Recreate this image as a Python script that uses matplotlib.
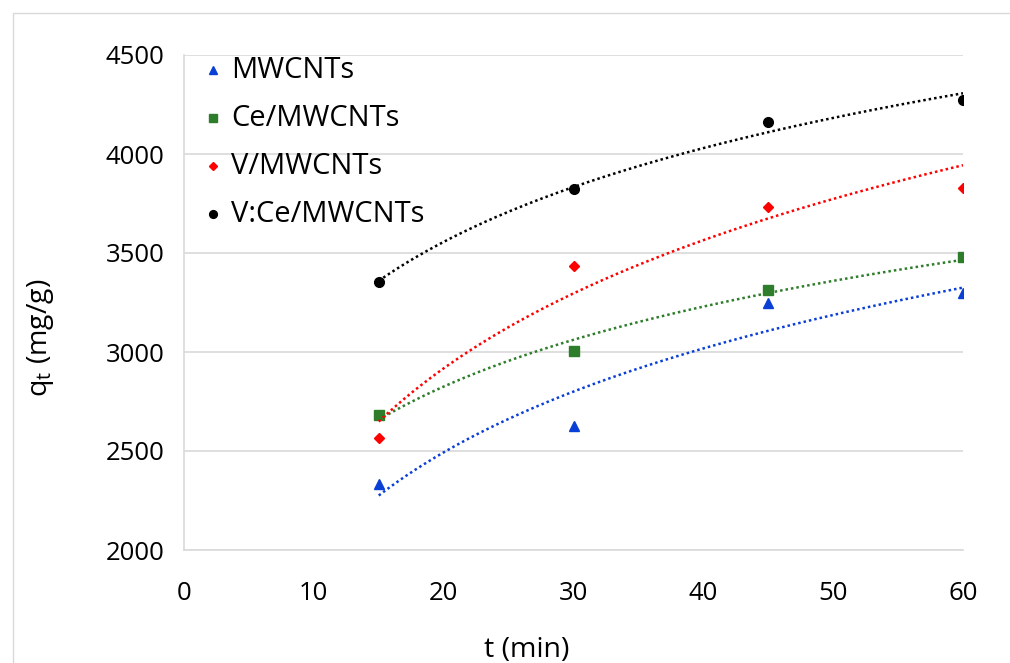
import numpy as np
import matplotlib
matplotlib.use("Agg")
import matplotlib.pyplot as plt
from matplotlib.patches import Rectangle

t = [15, 30, 45, 60]
series_names = ["MWCNTs", "Ce/MWCNTs", "V/MWCNTs", "V:Ce/MWCNTs"]
q_mwcnt = [2333, 2626, 3249, 3300]
q_ce = [2682, 3007, 3313, 3481]
q_v = [2567, 3436, 3732, 3828]
q_vce = [3355, 3821, 4162, 4272]
x_ticks = [0, 10, 20, 30, 40, 50, 60]
y_ticks = [2000, 2500, 3000, 3500, 4000, 4500]

plt.rcParams['font.family'] = ['Open Sans', 'DejaVu Sans']

fig = plt.figure(figsize=(10.10, 6.63), dpi=100)
fig.patches.append(Rectangle((13/1010, -0.1), 1.2, (1 - 13/663) + 0.1,
                             transform=fig.transFigure, fill=False,
                             edgecolor='#d9d9d9', linewidth=1.0))
ax = fig.add_axes([184/1010, 1 - 550/663, (963 - 184)/1010, (550 - 55)/663])

styles = [
    (q_mwcnt, '#0a3fd6', '^', 7.5),
    (q_ce, '#2e7d2a', 's', 7),
    (q_v, '#ff0000', 'D', 5.5),
    (q_vce, '#000000', 'o', 7),
]
tx = np.linspace(15, 60, 200)
for i, (name, (vals, col, mk, ms)) in enumerate(zip(series_names, styles)):
    ax.plot(t, vals, linestyle='none', marker=mk, color=col, markersize=ms)
    b, a = np.polyfit(np.log(t), vals, 1)
    ax.plot(tx, a + b * np.log(tx), linestyle=(0, (1, 1.2)), color=col, linewidth=1.8)
    # legend entry
    ly = (550 - (70 + 48 * i)) / 495
    ax.plot([(213 - 184) / 779], [ly], transform=ax.transAxes, linestyle='none',
            marker=mk, color=col, markersize=ms * 0.8, clip_on=False)
    ax.text((231 - 184) / 779, ly, name, transform=ax.transAxes, fontsize=21,
            va='center', ha='left')

ax.set_xlim(0, 60)
ax.set_ylim(2000, 4500)
ax.set_xticks(x_ticks)
ax.set_yticks(y_ticks)
ax.tick_params(axis='both', length=0, labelsize=18.5, colors='#000000')
ax.tick_params(axis='x', pad=22)
ax.tick_params(axis='y', pad=14)
ax.grid(axis='y', color='#d9d9d9', linewidth=1.2)
ax.set_axisbelow(True)
for s in ['top', 'right']:
    ax.spines[s].set_visible(False)
ax.spines['left'].set_color('#d9d9d9')
ax.spines['bottom'].set_color('#d9d9d9')
ax.spines['left'].set_linewidth(1.2)
ax.spines['bottom'].set_linewidth(1.2)

ax.set_xlabel('t (min)', fontsize=20.5)
ax.xaxis.set_label_coords((527 - 184) / 779, -(650 - 550) / 495, transform=ax.transAxes)
ax.xaxis.label.set_va('center')
ax.set_ylabel('q$_\\mathregular{t}$ (mg/g)', fontsize=20.5)
ax.yaxis.set_label_coords(-(184 - 40) / 779, (550 - 338) / 495, transform=ax.transAxes)
ax.yaxis.label.set_va('center')

fig.savefig('out.png', dpi=100)
